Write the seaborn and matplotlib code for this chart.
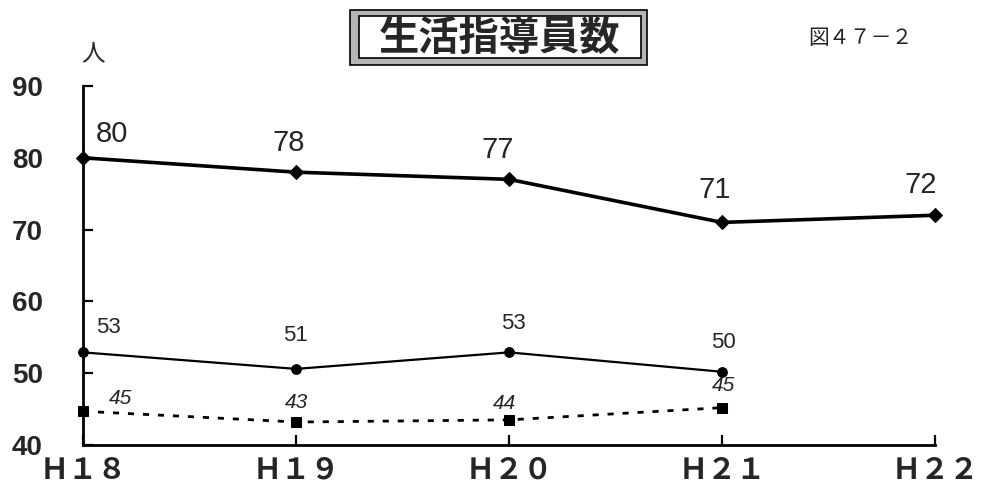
import matplotlib
matplotlib.use("Agg")
import matplotlib.pyplot as plt
import seaborn as sns
from matplotlib.patches import Rectangle
from pandas import DataFrame

# ── Data ──────────────────────────────────────────────────────────────────────
years = ["Ｈ１８", "Ｈ１９", "Ｈ２０", "Ｈ２１", "Ｈ２２"]

total_vals   = [80, 78, 77, 71, 72]
total_labels = ["80", "78", "77", "71", "72"]

mid_vals   = [52.9, 50.6, 52.9, 50.2]
mid_labels = ["53", "51", "53", "50"]

low_vals   = [44.7, 43.2, 43.5, 45.2]
low_labels = ["45", "43", "44", "45"]

y_ticks = [40, 50, 60, 70, 80, 90]

# label offsets in points (style only)
total_off = [(21, 17), (-5, 21), (-8, 21), (-5, 23), (-10, 22)]
mid_off   = [(18, 18), (0, 24), (3, 21), (1, 21)]
low_off   = [(27, 9), (0, 14), (-3, 12), (1, 16)]

# ── Figure ────────────────────────────────────────────────────────────────────
sns.set_style("white")
plt.rcParams["font.family"] = ["Noto Sans CJK JP", "DejaVu Sans"]

W, H = 982, 495
fig = plt.figure(figsize=(W / 100, H / 100), dpi=100)
fig.patch.set_facecolor("white")
ax = fig.add_axes([83 / W, (H - 445) / H, (935 - 83) / W, (445 - 86) / H])
ax.set_facecolor("white")

x_all = list(range(len(years)))
df_total = DataFrame({"x": x_all, "y": total_vals})
df_mid = DataFrame({"x": x_all[:len(mid_vals)], "y": mid_vals})
df_low = DataFrame({"x": x_all[:len(low_vals)], "y": low_vals})

sns.lineplot(data=df_total, x="x", y="y", ax=ax, color="black", lw=2.6,
             marker="D", markersize=7, markeredgecolor="black", clip_on=False)
sns.lineplot(data=df_mid, x="x", y="y", ax=ax, color="black", lw=1.6,
             marker="o", markersize=7, markeredgecolor="black", clip_on=False)
sns.lineplot(data=df_low, x="x", y="y", ax=ax, color="black", lw=2.0,
             linestyle=(0, (2.2, 3.2)), marker="s", markersize=7,
             markeredgecolor="black", clip_on=False)

num_font = ["Liberation Sans", "DejaVu Sans"]
for xi, (v, t, off) in enumerate(zip(total_vals, total_labels, total_off)):
    ax.annotate(t, (xi, v), xytext=off, textcoords="offset points",
                ha="center", va="center", fontsize=21, family=num_font)
for xi, (v, t, off) in enumerate(zip(mid_vals, mid_labels, mid_off)):
    ax.annotate(t, (xi, v), xytext=off, textcoords="offset points",
                ha="center", va="center", fontsize=16, family=num_font)
for xi, (v, t, off) in enumerate(zip(low_vals, low_labels, low_off)):
    ax.annotate(t, (xi, v), xytext=off, textcoords="offset points",
                ha="center", va="center", fontsize=15, style="italic",
                family=num_font)

# ── Axes styling ──────────────────────────────────────────────────────────────
ax.set_xlim(0, len(years) - 1)
ax.set_ylim(40, 90)
ax.set_xticks(x_all)
ax.set_xticklabels(years, fontsize=21, fontweight="bold")
ax.set_yticks(y_ticks)
ax.set_yticklabels([str(t) for t in y_ticks], fontsize=20, fontweight="bold",
                   family=num_font)
ax.set_xlabel("")
ax.set_ylabel("")
ax.tick_params(axis="y", left=True, direction="in", length=7, width=1.6,
               pad=29, color="black")
ax.tick_params(axis="x", bottom=True, direction="in", length=7, width=1.6,
               pad=7, color="black")
for s in ("top", "right"):
    ax.spines[s].set_visible(False)
for s in ("left", "bottom"):
    ax.spines[s].set_linewidth(2)
    ax.spines[s].set_color("black")

# unit label
fig.text(93 / W, 1 - 54 / H, "人", fontsize=17, ha="center", va="center")

# ── Title box ─────────────────────────────────────────────────────────────────
def px_rect(x0, y0, x1, y1, **kw):
    return Rectangle((x0 / W, 1 - y1 / H), (x1 - x0) / W, (y1 - y0) / H,
                     transform=fig.transFigure, **kw)

fig.patches.append(px_rect(350, 10, 647, 65, facecolor="#b5b5b5",
                           edgecolor="black", lw=1.2))
fig.patches.append(px_rect(359, 16, 641, 58, facecolor="white",
                           edgecolor="black", lw=1.2))
fig.text(500 / W, 1 - 39 / H, "生活指導員数", fontsize=29, fontweight="bold",
         ha="center", va="center")

fig.text(860 / W, 1 - 38 / H, "図４７－２", fontsize=15,
         ha="center", va="center")

fig.savefig("out.png", dpi=100, facecolor="white")
